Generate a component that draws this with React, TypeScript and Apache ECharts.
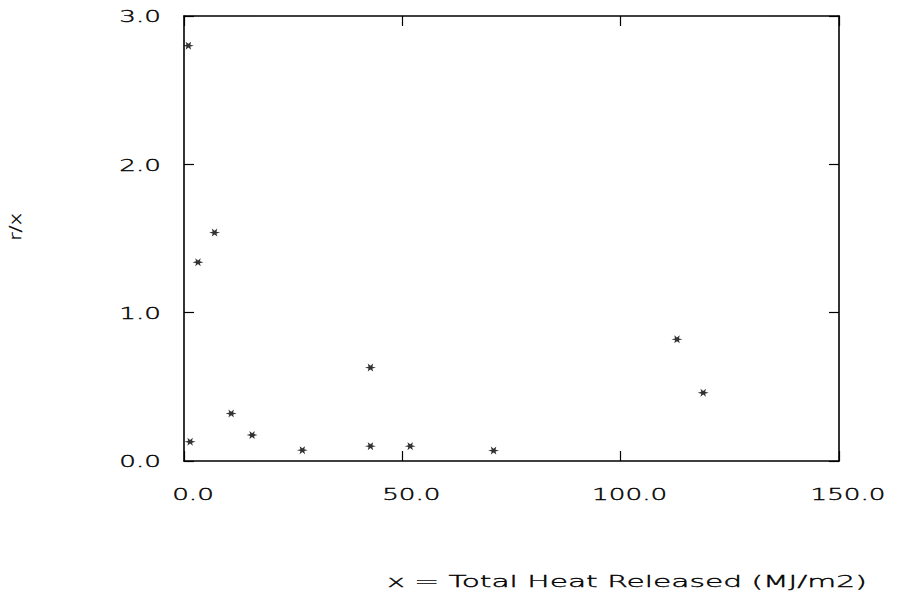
import React, { useEffect, useRef } from "react";
import * as echarts from "echarts";

const xValues = [1.0, 1.4, 3.2, 7.0, 10.8, 15.6, 27.1, 42.7, 42.7, 51.8, 70.9, 112.9, 118.9];
const yValues = [2.8, 0.13, 1.34, 1.54, 0.32, 0.175, 0.073, 0.63, 0.1, 0.1, 0.07, 0.82, 0.46];
const xTicks = [0, 50, 100, 150];
const yTicks = [0, 1, 2, 3];
const xTitle = "x = Total Heat Released (MJ/m2)";
const yTitle = "r/x";

const STAR =
  "path://M20 10 L13.5 12 L15 18.7 L10 14 L5 18.7 L6.5 12 L0 10 L6.5 8 L5 1.3 L10 6 L15 1.3 L13.5 8 Z";

export default function App() {
  const ref = useRef<HTMLDivElement>(null);
  useEffect(() => {
    if (!ref.current) return;
    const chart = echarts.init(ref.current, null, { renderer: "svg" });
    const axisCommon = {
      type: "value" as const,
      axisLine: { show: true, onZero: false, lineStyle: { color: "#000", width: 1.6 } },
      axisTick: { show: true, inside: true, length: 10, lineStyle: { color: "#000", width: 1.2 } },
      axisLabel: { show: false },
      splitLine: { show: false },
    };
    chart.setOption({
      animation: false,
      backgroundColor: "#fff",
      grid: { left: 184, top: 16, width: 655, height: 445, show: false },
      xAxis: [
        { ...axisCommon, min: 0, max: 150, interval: 50, position: "bottom" },
        { ...axisCommon, min: 0, max: 150, interval: 50, position: "top" },
      ],
      yAxis: [
        { ...axisCommon, min: 0, max: 3, interval: 1, position: "left" },
        { ...axisCommon, min: 0, max: 3, interval: 1, position: "right" },
      ],
      series: [
        {
          type: "scatter",
          xAxisIndex: 0,
          yAxisIndex: 0,
          symbol: STAR,
          symbolSize: [11, 8],
          itemStyle: { color: "#000" },
          data: xValues.map((x, i) => [x, yValues[i]]),
        },
      ],
    });

    const font = {
      fontFamily: "DejaVu Sans",
      fontSize: 15,
      fontWeight: 200,
      fill: "#000",
      stroke: "#000",
      lineWidth: 0.35,
    };
    const graphics: any[] = [];
    xTicks.forEach((v) => {
      const p = chart.convertToPixel({ gridIndex: 0 }, [v, 0]) as number[];
      graphics.push({
        type: "text",
        x: p[0] + 9,
        y: p[1] + 34,
        scaleX: 1.75,
        style: { ...font, text: v.toFixed(1), align: "center", verticalAlign: "middle" },
      });
    });
    yTicks.forEach((v) => {
      const p = chart.convertToPixel({ gridIndex: 0 }, [0, v]) as number[];
      graphics.push({
        type: "text",
        x: p[0] - 23,
        y: p[1] + 1,
        scaleX: 1.75,
        style: { ...font, text: v.toFixed(1), align: "right", verticalAlign: "middle" },
      });
    });
    graphics.push({
      type: "text",
      x: 627,
      y: 582,
      scaleX: 1.98,
      style: { ...font, text: xTitle, align: "center", verticalAlign: "middle" },
    });
    graphics.push({
      type: "text",
      x: 15,
      y: 227,
      rotation: Math.PI / 2,
      scaleX: 1.3,
      style: { ...font, fontSize: 16, text: yTitle, align: "center", verticalAlign: "middle" },
    });
    chart.setOption({ graphic: graphics });
    return () => chart.dispose();
  }, []);
  return (
    <div
      ref={ref}
      style={{ position: "fixed", left: 0, top: 0, width: 897, height: 599, background: "#fff" }}
    />
  );
}
